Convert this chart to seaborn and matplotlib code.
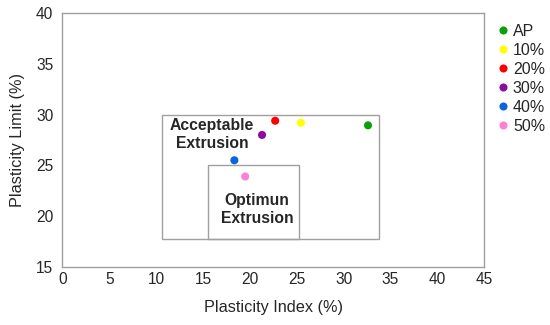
import matplotlib
matplotlib.use("Agg")
import matplotlib.pyplot as plt
from matplotlib.patches import Rectangle
import seaborn as sns
import pandas as pd

# Données
samples = ['AP', '10%', '20%', '30%', '40%', '50%']
plasticity_index = [32.6, 25.45, 22.7, 21.3, 18.35, 19.5]
plasticity_limit = [28.95, 29.2, 29.4, 28.0, 25.5, 23.9]
colors = ['#0aa00a', '#ffff00', '#ff0000', '#8c0a9c', '#0a64dc', '#ff80d4']

df = pd.DataFrame({'PI': plasticity_index, 'PL': plasticity_limit, 'sample': samples})

sns.set_style('white')
plt.rcParams['font.family'] = ['Liberation Sans', 'DejaVu Sans']

fig = plt.figure(figsize=(5.5, 3.25), dpi=100)
ax = fig.add_axes([0.1133, 0.1794, 0.7672, 0.7796])

sns.scatterplot(data=df, x='PI', y='PL', hue='sample', palette=colors,
                s=34, edgecolor='none', ax=ax, zorder=3)

# Zones d'extrusion (acceptable / optimum)
ax.add_patch(Rectangle((10.6, 17.7), 33.8 - 10.6, 30.0 - 17.7,
                       fill=False, edgecolor='#a0a0a0', lw=1.0))
ax.add_patch(Rectangle((15.5, 17.7), 25.2 - 15.5, 25.0 - 17.7,
                       fill=False, edgecolor='#a0a0a0', lw=1.0))
ax.text(15.95, 28.05, 'Acceptable\nExtrusion', ha='center', va='center',
        fontsize=11.3, fontweight='bold', linespacing=1.25)
ax.text(20.75, 20.65, 'Optimun\nExtrusion', ha='center', va='center',
        fontsize=11.3, fontweight='bold', linespacing=1.25)

ax.set_xlim(0, 45)
ax.set_ylim(15, 40)
ax.set_xticks(range(0, 50, 5))
ax.set_yticks(range(15, 45, 5))
ax.set_xlabel('Plasticity Index (%)', fontsize=11.7, labelpad=9)
ax.set_ylabel('Plasticity Limit (%)', fontsize=11.7, labelpad=8)
ax.tick_params(axis='x', direction='in', length=5, color='#a0a0a0', labelsize=11.2, pad=4)
ax.tick_params(axis='y', direction='out', length=5, color='#a0a0a0', labelsize=11.2, pad=1.5)
for sp in ax.spines.values():
    sp.set_color('#a0a0a0')
    sp.set_linewidth(1.0)

ax.get_legend().remove()
handles, labels = ax.get_legend_handles_labels()
fig.legend(handles, labels, loc='upper left', bbox_to_anchor=(0.889, 0.946),
           frameon=False, fontsize=11.5, handletextpad=0.1, labelspacing=0.25,
           handlelength=1.0, borderaxespad=0)

fig.savefig('out.png', dpi=100)
